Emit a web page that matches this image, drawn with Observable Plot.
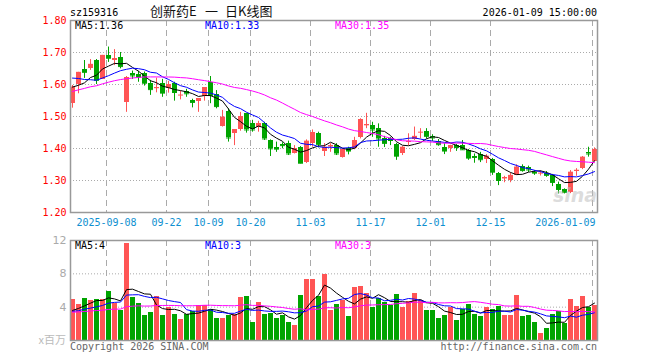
<!DOCTYPE html>
<html><head><meta charset="utf-8">
<script src="https://cdn.jsdelivr.net/npm/d3@7"></script>
<script src="https://cdn.jsdelivr.net/npm/@observablehq/plot@0.6"></script>
<style>
body{margin:0;background:#fff;}
#wrap{position:relative;width:660px;height:360px;overflow:hidden;font-family:"DejaVu Sans Mono",monospace;}
.t{position:absolute;white-space:nowrap;font-size:10px;line-height:10px;}
#wrap svg{position:absolute;left:0;}
</style></head><body><div id="wrap"></div>
<script>
// ---------------- data ----------------
const stockCode = "sz159316";
const titleParts = ["创新药E", "一", "日K线图"];
const stamp = "2026-01-09 15:00:00";
const tickIndex = [6, 16, 23, 30, 40, 50, 60, 70, 87];
const tickLabels = ["2025-09-08","09-22","10-09","10-20","11-03","11-17","12-01","12-15","2026-01-09"];
const priceTicks = [1.2, 1.3, 1.4, 1.5, 1.6, 1.7, 1.8];
const volTicks = [4, 8, 12];
const priceLegend = ["MA5:1.36", "MA10:1.33", "MA30:1.35"];
const volLegend = ["MA5:4", "MA10:3", "MA30:3"];

const open = [1.540,1.600,1.647,1.650,1.675,1.616,1.691,1.675,1.685,1.544,
1.635,1.630,1.633,1.604,1.588,1.604,1.587,1.602,1.565,1.579,
1.550,1.548,1.563,1.606,1.569,1.469,1.517,1.448,1.458,1.508,
1.479,1.467,1.477,1.425,1.404,1.411,1.415,1.383,1.402,1.357,
1.415,1.448,1.392,1.407,1.409,1.373,1.399,1.399,1.435,1.472,
1.472,1.462,1.431,1.430,1.412,1.385,1.420,1.428,1.450,1.453,
1.438,1.423,1.404,1.401,1.409,1.409,1.394,1.374,1.380,1.366,
1.365,1.322,1.307,1.300,1.316,1.344,1.342,1.324,1.322,1.323,
1.316,1.288,1.271,1.263,1.328,1.337,1.388,1.359];
const high = [1.597,1.638,1.675,1.678,1.678,1.691,1.717,1.709,1.700,1.625,
1.642,1.641,1.639,1.613,1.620,1.616,1.610,1.607,1.579,1.585,
1.554,1.556,1.590,1.625,1.581,1.519,1.524,1.459,1.513,1.510,
1.488,1.485,1.482,1.427,1.420,1.418,1.423,1.409,1.406,1.427,
1.458,1.451,1.415,1.415,1.415,1.399,1.404,1.435,1.493,1.510,
1.482,1.477,1.438,1.435,1.416,1.406,1.446,1.467,1.462,1.462,
1.443,1.428,1.415,1.410,1.413,1.425,1.397,1.383,1.388,1.381,
1.369,1.325,1.313,1.323,1.349,1.349,1.345,1.331,1.330,1.328,
1.319,1.295,1.274,1.331,1.337,1.375,1.404,1.402];
const low = [1.526,1.571,1.619,1.644,1.600,1.616,1.669,1.659,1.649,1.513,
1.616,1.607,1.595,1.566,1.574,1.560,1.573,1.548,1.552,1.560,
1.527,1.513,1.548,1.540,1.524,1.467,1.420,1.409,1.454,1.448,
1.451,1.451,1.425,1.375,1.388,1.399,1.378,1.383,1.352,1.353,
1.404,1.402,1.375,1.388,1.378,1.370,1.380,1.396,1.430,1.462,
1.435,1.404,1.403,1.409,1.363,1.378,1.409,1.425,1.430,1.430,
1.422,1.407,1.381,1.388,1.391,1.394,1.363,1.354,1.356,1.353,
1.316,1.284,1.293,1.293,1.316,1.326,1.325,1.316,1.314,1.310,
1.281,1.258,1.258,1.259,1.313,1.334,1.373,1.358];
const close = [1.592,1.638,1.638,1.663,1.613,1.691,1.682,1.681,1.656,1.621,
1.627,1.623,1.604,1.584,1.590,1.573,1.600,1.575,1.567,1.571,
1.544,1.556,1.590,1.566,1.531,1.498,1.433,1.458,1.500,1.458,
1.458,1.477,1.430,1.399,1.398,1.409,1.383,1.399,1.354,1.423,
1.450,1.413,1.404,1.408,1.383,1.396,1.392,1.425,1.490,1.474,
1.458,1.430,1.416,1.425,1.376,1.404,1.422,1.438,1.451,1.438,
1.433,1.412,1.392,1.409,1.403,1.396,1.370,1.372,1.365,1.376,
1.326,1.300,1.308,1.316,1.342,1.331,1.333,1.323,1.323,1.316,
1.294,1.272,1.263,1.326,1.332,1.373,1.383,1.396];
// volume, x 百万
const volume = [4.92,4.32,5.04,4.8,4.92,4.92,5.88,4.44,3.6,11.68,
5.2,4.48,3.0,3.4,5.28,3.0,3.92,3.12,2.52,3.12,
3.48,4.2,4.2,3.72,2.64,2.64,3.0,3.12,5.16,5.28,
2.16,4.6,3.12,3.24,2.64,3.0,2.16,1.8,5.4,7.32,
7.32,5.28,7.92,3.6,4.32,4.8,2.88,6.36,6.48,5.64,
3.96,5.04,4.56,4.2,5.52,3.96,4.68,5.64,4.8,3.6,
3.6,2.64,3.0,3.96,2.4,3.72,4.32,3.12,2.88,3.96,
3.72,4.08,3.0,3.0,5.4,2.88,3.0,2.16,0.84,1.44,
3.12,3.48,2.04,4.92,4.08,5.28,3.96,4.2];
// sessions before the first visible candle (estimated from where the MA lines start)
const priorClose = [1.49,1.50,1.51,1.52,1.51,1.53,1.54,1.55,1.54,1.56,
1.57,1.56,1.58,1.59,1.58,1.60,1.59,1.61,1.60,1.62,
1.65,1.67,1.67,1.63,1.62,1.61,1.60,1.58,1.578];
const priorVolume = [3.1,3.6,2.9,3.4,3.8,3.0,3.3,3.5,2.8,3.6,
3.2,3.9,3.1,3.4,3.0,3.7,3.3,3.5,3.2,3.4,
3.6,3.2,3.5,3.4,3.3,3.1,3.5,3.2,3.3];

// ---------------- derived ----------------
function movingAvg(series, prior, n) {
  const all = prior.concat(series), off = prior.length;
  return series.map((_, i) => d3.sum(all.slice(off + i - n + 1, off + i + 1)) / n);
}
const N = close.length;
const RED = "#ff5555", GREEN = "#00a400";
const rows = d3.range(N).map(i => ({i, o: open[i], h: high[i], l: low[i], c: close[i], v: volume[i], up: close[i] >= open[i]}));
const colorOf = d => d.up ? RED : GREEN;
const pMA = [5, 10, 30].map(n => movingAvg(close, priorClose, n));
const vMA = [5, 10, 30].map(n => movingAvg(volume, priorVolume, n));
const maColors = ["#000000", "#0000ff", "#ff00ff"];

const STEP = 6, LEFT = 70, RIGHT = 597;
const xDomain = [0, (RIGHT - LEFT) / STEP];
const BW = 5 / STEP, MID = 2 / STEP;
const font = "DejaVu Sans Mono";
const lastTick = tickIndex[tickIndex.length - 1];

function maLines(mas) {
  return mas.map((m, k) => Plot.line(m, {x: (d, i) => i + MID, y: d => d, stroke: maColors[k], strokeWidth: 1}));
}

const price = Plot.plot({
  width: 660, height: 230, marginLeft: LEFT, marginRight: 660 - RIGHT, marginTop: 20, marginBottom: 18,
  x: {domain: xDomain, axis: null},
  y: {domain: [1.2, 1.8], axis: null},
  color: {type: "identity"},
  style: {background: "transparent", overflow: "visible"},
  marks: [
    Plot.ruleY(priceTicks.slice(1, -1), {stroke: "#aaa", strokeDasharray: "1,2"}),
    Plot.ruleX(tickIndex, {x: d => d, stroke: "#aaa", strokeDasharray: "6,4"}),
    Plot.ruleX(rows, {x: d => d.i + MID, y1: "l", y2: "h", stroke: colorOf}),
    Plot.rect(rows, {x1: "i", x2: d => d.i + BW, y1: d => Math.min(d.o, d.c), y2: d => Math.max(d.o, d.c), fill: colorOf, shapeRendering: "crispEdges"}),
    Plot.ruleY(rows, {x1: "i", x2: d => d.i + BW, y: "c", stroke: colorOf}),
    ...maLines(pMA),
    Plot.frame({stroke: "#999", strokeWidth: 1.5}),
    Plot.text(priceTicks, {x: xDomain[0], y: d => d, text: d => d.toFixed(2), textAnchor: "end", dx: -4, fill: "#f00", fontSize: 10, fontFamily: font}),
    Plot.text(tickIndex.filter(d => d !== lastTick), {x: d => d, y: 1.2, text: (d, k) => tickLabels[k], dy: 10,
      textAnchor: "middle", fill: "#0e8fd0", fontSize: 10, fontFamily: font}),
    Plot.text([lastTick], {x: d => d, y: 1.2, text: () => tickLabels[tickLabels.length - 1], dy: 10, dx: 3,
      textAnchor: "end", fill: "#0e8fd0", fontSize: 10, fontFamily: font})
  ]
});
price.style.top = "0px";

const vol = Plot.plot({
  width: 660, height: 130, marginLeft: LEFT, marginRight: 660 - RIGHT, marginTop: 10, marginBottom: 20,
  x: {domain: xDomain, axis: null},
  y: {domain: [0, 12], axis: null},
  color: {type: "identity"},
  style: {background: "transparent", overflow: "visible"},
  marks: [
    Plot.ruleY(volTicks.slice(0, -1), {stroke: "#aaa", strokeDasharray: "1,2"}),
    Plot.ruleX(tickIndex, {x: d => d, stroke: "#aaa", strokeDasharray: "6,4"}),
    Plot.rect(rows, {x1: "i", x2: d => d.i + BW, y1: 0, y2: "v", fill: colorOf, shapeRendering: "crispEdges"}),
    ...maLines(vMA),
    Plot.frame({stroke: "#999", strokeWidth: 1.5}),
    Plot.text(volTicks, {x: xDomain[0], y: d => d, text: d => String(d), textAnchor: "end", dx: -4, fill: "#aaa", fontSize: 11, fontFamily: "DejaVu Sans"})
  ]
});
vol.style.top = "230px";

const wrap = document.getElementById("wrap");
wrap.append(price, vol);

function addText(txt, css) {
  const d = document.createElement("div");
  d.className = "t"; d.textContent = txt;
  Object.assign(d.style, css);
  wrap.append(d);
  return d;
}
addText(stockCode, {left: "70px", top: "8px"});
const titleX = [150, 205, 225];
titleParts.forEach((t, k) => addText(t, {left: titleX[k] + "px", top: "4px", fontFamily: "'Noto Sans CJK SC'", fontSize: "13px", lineHeight: "13px", color: "#111"}));
addText(stamp, {right: "63px", top: "7.5px"});
const legX = [75, 205, 335];
priceLegend.forEach((t, k) => addText(t, {left: legX[k] + "px", top: "21px", color: maColors[k]}));
volLegend.forEach((t, k) => addText(t, {left: legX[k] + "px", top: "241px", color: maColors[k]}));
addText("x百万", {right: "594px", top: "334px", color: "#bbb", fontFamily: "'Noto Sans CJK SC'", fontSize: "11px", lineHeight: "11px"});
addText("Copyright 2026 SINA.COM", {left: "70px", top: "341.5px", color: "#666"});
addText("http://finance.sina.com.cn", {right: "63px", top: "341.5px", color: "#666"});
addText("sina", {left: "553px", top: "186px", fontFamily: "'DejaVu Sans'", fontSize: "19px", lineHeight: "19px", fontStyle: "italic", fontWeight: "bold", color: "rgba(190,190,190,0.55)"});
</script></body></html>
